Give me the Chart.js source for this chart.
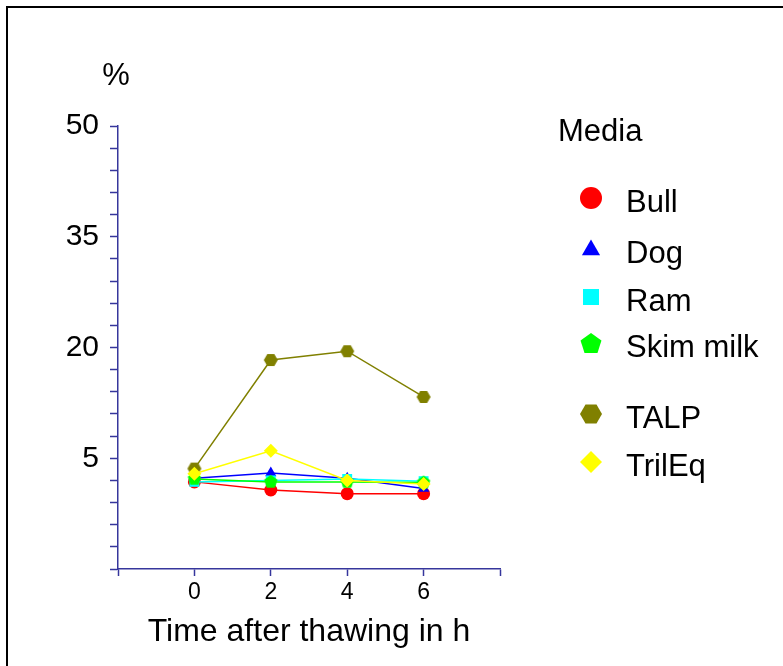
<!DOCTYPE html>
<html>
<head>
<meta charset="utf-8">
<script src="https://cdn.jsdelivr.net/npm/chart.js@4.4.1/dist/chart.umd.min.js"></script>
<style>
  html, body { margin: 0; padding: 0; background: #ffffff; }
  #wrap { width: 783px; height: 666px; position: relative; overflow: hidden; }
</style>
</head>
<body>
<div id="wrap"><canvas id="chart" width="783" height="666"></canvas></div>
<script>
// Sampling times (hours after thawing)
const hours = [0, 2, 4, 6];

// Percent values per medium
const bull     = [1.8, 0.7, 0.2, 0.2];
const dog      = [2.3, 3.0, 2.3, 0.9];
const ram      = [1.8, 2.0, 2.2, 1.9];
const skimMilk = [2.2, 1.8, 1.8, 1.7];
const talp     = [3.6, 18.3, 19.5, 13.3];
const trilEq   = [2.9, 6.0, 2.0, 1.5];

const seriesNames = ['Bull', 'Dog', 'Ram', 'Skim milk', 'TALP', 'TrilEq'];

// Axis ticks
const xTickValues = [-2, 0, 2, 4, 6, 8];
const xTickLabels = [0, 2, 4, 6];
const yTickLabels = [5, 20, 35, 50];
const yMinorStep = 3;

const FONT = "'Liberation Sans', Arial, Helvetica, sans-serif";
const AXIS = '#36369c';

Chart.defaults.font.family = FONT;
Chart.defaults.color = '#000000';

// Regular polygon path, used for pentagon / hexagon markers and the legend
function polygonPath(ctx, cx, cy, sides, r, start) {
  ctx.beginPath();
  for (let i = 0; i < sides; i++) {
    const a = start + i * 2 * Math.PI / sides;
    const px = cx + r * Math.cos(a), py = cy + r * Math.sin(a);
    if (i === 0) ctx.moveTo(px, py); else ctx.lineTo(px, py);
  }
  ctx.closePath();
}
function polygonMarker(sides, r, color, start) {
  const size = Math.ceil(2 * r + 2);
  const cv = document.createElement('canvas');
  cv.width = size; cv.height = size;
  const g = cv.getContext('2d');
  g.fillStyle = color;
  polygonPath(g, size / 2, size / 2, sides, r, start);
  g.fill();
  return cv;
}

const styles = [
  { color: '#ff0000', shape: 'circle' },
  { color: '#0000ff', shape: 'triangle' },
  { color: '#00ffff', shape: 'square' },
  { color: '#00ff00', shape: 'pentagon' },
  { color: '#808000', shape: 'hexagon' },
  { color: '#ffff00', shape: 'diamond' }
];

function pointStyleFor(s) {
  switch (s.shape) {
    case 'circle':   return { pointStyle: 'circle', pointRadius: 6.5 };
    case 'triangle': return { pointStyle: 'triangle', pointRadius: 6.5 };
    case 'square':   return { pointStyle: 'rect', pointRadius: 7 };
    case 'pentagon': return { pointStyle: polygonMarker(5, 7, s.color, -Math.PI / 2), pointRadius: 7 };
    case 'hexagon':  return { pointStyle: polygonMarker(6, 7, s.color, 0), pointRadius: 7 };
    case 'diamond':  return { pointStyle: 'rectRot', pointRadius: 7 };
  }
}

const values = [bull, dog, ram, skimMilk, talp, trilEq];
const datasets = values.map((vals, i) => {
  const st = styles[i];
  return Object.assign({
    label: seriesNames[i],
    data: hours.map((h, k) => ({ x: h, y: vals[k] })),
    borderColor: st.color,
    backgroundColor: st.color,
    pointBackgroundColor: st.color,
    pointBorderWidth: 0,
    borderWidth: 1.5,
    tension: 0,
    order: values.length - 1 - i
  }, pointStyleFor(st));
});

// Background, frame, "%" unit label and the Media legend
const decor = {
  id: 'decor',
  beforeDraw(chart) {
    const ctx = chart.ctx;
    ctx.save();
    ctx.fillStyle = '#ffffff';
    ctx.fillRect(0, 0, chart.width, chart.height);
    ctx.strokeStyle = '#000000';
    ctx.lineWidth = 2;
    ctx.strokeRect(7, 7, chart.width + 20, chart.height + 20);
    ctx.restore();
  },
  afterDraw(chart) {
    const ctx = chart.ctx;
    ctx.save();
    ctx.fillStyle = '#000000';
    ctx.font = '31px ' + FONT;
    ctx.textBaseline = 'alphabetic';
    ctx.textAlign = 'center';
    ctx.fillText('%', 116, 85);

    ctx.textAlign = 'left';
    ctx.fillText('Media', 558, 141);

    const rows = [198, 249, 297, 343, 414, 462];
    const mx = 591, tx = 626;
    rows.forEach((cy, i) => {
      const st = styles[i];
      ctx.fillStyle = st.color;
      switch (st.shape) {
        case 'circle':
          ctx.beginPath(); ctx.arc(mx, cy, 11, 0, 2 * Math.PI); ctx.fill(); break;
        case 'triangle':
          polygonPath(ctx, mx, cy + 1, 3, 10.5, -Math.PI / 2); ctx.fill(); break;
        case 'square':
          polygonPath(ctx, mx, cy, 4, 11.3, Math.PI / 4); ctx.fill(); break;
        case 'pentagon':
          polygonPath(ctx, mx, cy + 1, 5, 11, -Math.PI / 2); ctx.fill(); break;
        case 'hexagon':
          polygonPath(ctx, mx, cy, 6, 11, 0); ctx.fill(); break;
        case 'diamond':
          polygonPath(ctx, mx, cy, 4, 11, 0); ctx.fill(); break;
      }
      ctx.fillStyle = '#000000';
      ctx.fillText(seriesNames[i], tx, cy + 14);
    });
    ctx.restore();
  }
};

new Chart(document.getElementById('chart'), {
  type: 'line',
  data: { datasets },
  plugins: [decor],
  options: {
    responsive: false,
    animation: false,
    events: [],
    layout: { padding: { left: 0, top: 126, right: 283, bottom: 0 } },
    plugins: { legend: { display: false }, tooltip: { enabled: false }, title: { display: false } },
    scales: {
      x: {
        type: 'linear',
        min: -2,
        max: 8,
        afterBuildTicks(scale) { scale.ticks = xTickValues.map(v => ({ value: v })); },
        afterFit(scale) { scale.height = 97; },
        ticks: {
          autoSkip: false,
          maxRotation: 0,
          padding: 3,
          color: '#000000',
          font: { size: 23 },
          callback: v => (xTickLabels.includes(v) ? String(v) : '')
        },
        grid: { drawOnChartArea: false, drawTicks: true, tickLength: 7, tickColor: AXIS, tickWidth: 1.5 },
        border: { display: true, color: AXIS, width: 1.5 },
        title: {
          display: true,
          text: 'Time after thawing in h',
          color: '#000000',
          font: { size: 32 },
          padding: { top: 0, bottom: 15 }
        }
      },
      y: {
        type: 'linear',
        min: -10,
        max: 50,
        afterBuildTicks(scale) {
          const t = [];
          for (let v = -10; v <= 50; v += yMinorStep) t.push({ value: v });
          scale.ticks = t;
        },
        afterFit(scale) { scale.width = 118; },
        ticks: {
          autoSkip: false,
          padding: 11,
          color: '#000000',
          font: { size: 30 },
          callback: v => (yTickLabels.includes(v) ? String(v) : '')
        },
        grid: { drawOnChartArea: false, drawTicks: true, tickLength: 8, tickColor: AXIS, tickWidth: 1.5 },
        border: { display: true, color: AXIS, width: 1.5 }
      }
    }
  }
});
</script>
</body>
</html>
